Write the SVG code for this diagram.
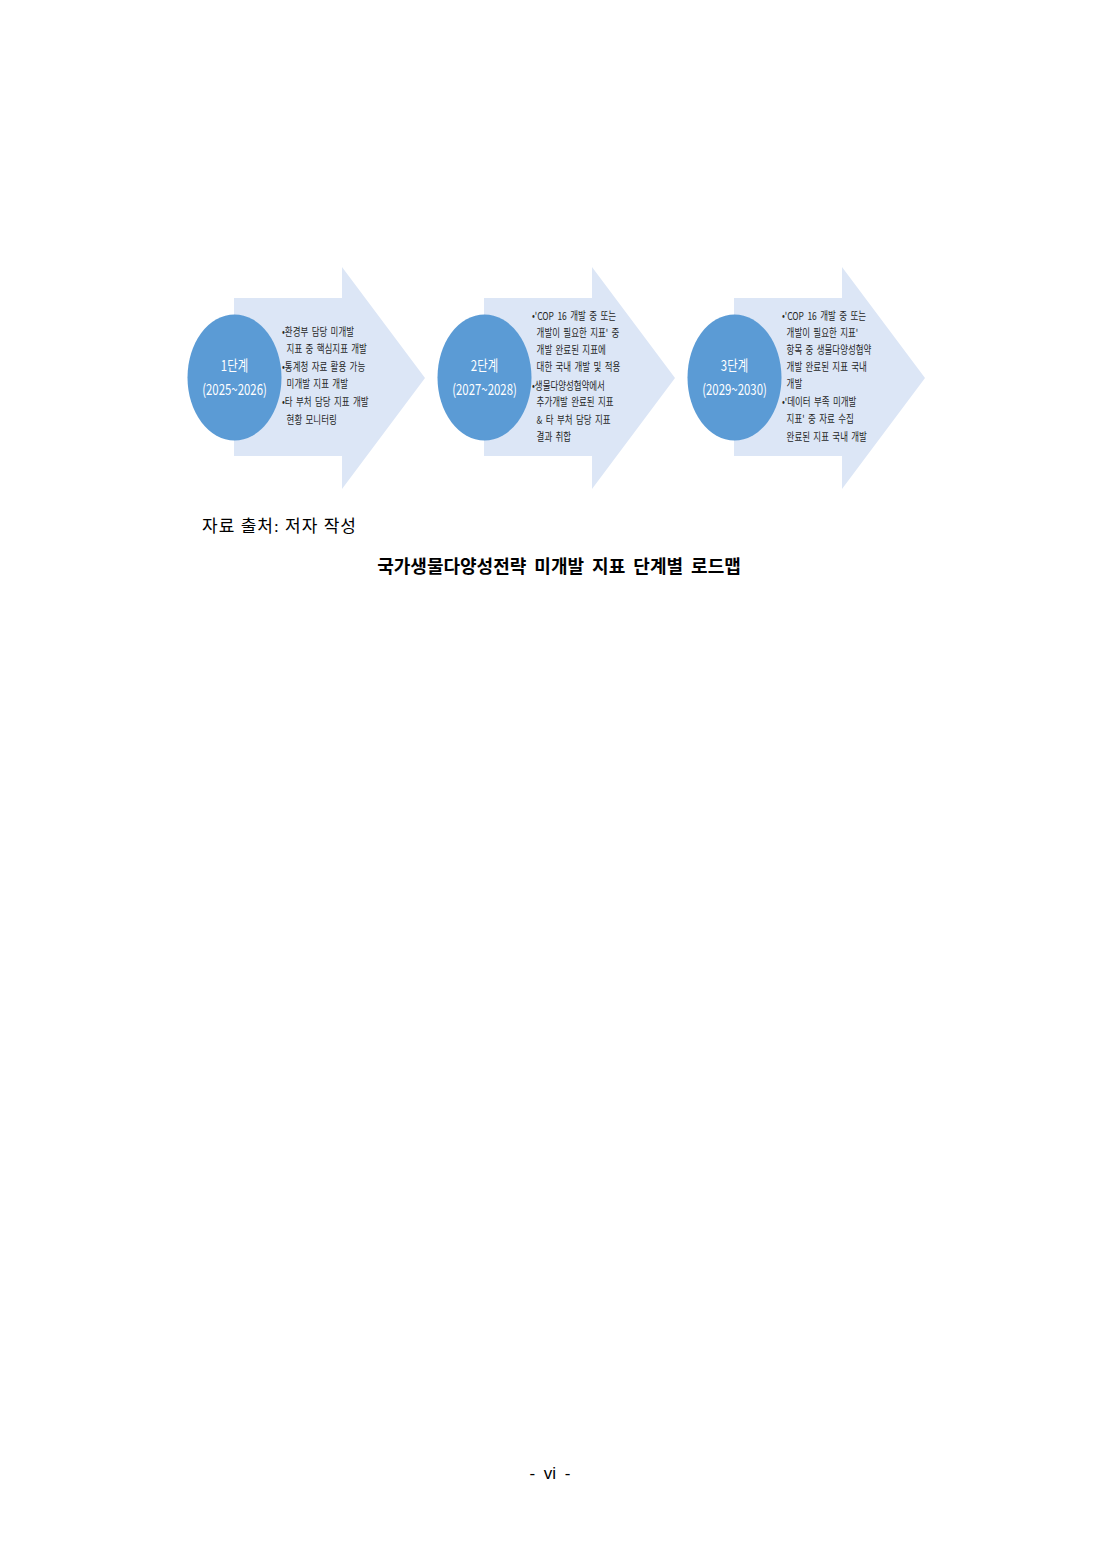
<svg xmlns="http://www.w3.org/2000/svg" width="1100" height="1554" viewBox="0 0 1100 1554">
<style>
.arrow{fill:#DCE6F6;stroke:none}
.circ{fill:#5B9BD5;stroke:none}
.clbl{font-family:"Noto Sans CJK KR","Noto Sans",sans-serif;font-size:15px;fill:#ffffff;text-anchor:middle}
.blt{font-family:"Noto Sans CJK KR","Noto Sans",sans-serif;font-size:11px;fill:#262626;word-spacing:2px}
.cap{font-family:"Liberation Serif","Noto Sans CJK KR",serif;font-size:17px;fill:#000}
.ttl{font-family:"Noto Sans CJK KR",sans-serif;font-size:18px;font-weight:bold;fill:#000;text-anchor:middle;word-spacing:4px}
.ftr{font-family:"Liberation Sans","Noto Sans CJK KR",sans-serif;font-size:17px;fill:#000;text-anchor:middle;word-spacing:4px}
</style>
<rect x="0" y="0" width="1100" height="1554" fill="#ffffff"/>
<defs>
<path id="arw" d="M0,298 L108,298 L108,267 L191,378 L108,489 L108,456 L0,456 Z"/>
</defs>
<g id="connectors">
<use href="#arw" class="arrow" transform="translate(234,0)"/>
<use href="#arw" class="arrow" transform="translate(484,0)"/>
<use href="#arw" class="arrow" transform="translate(734,0)"/>
</g>
<g id="stage1">
<ellipse class="circ" cx="234.5" cy="377.5" rx="47" ry="63"/>
<g transform="translate(234.5 0) scale(0.76 1)">
<text class="clbl" x="0" y="371">1단계</text>
<text class="clbl" x="0" y="395">(2025~2026)</text>
</g>
<g transform="translate(282 0) scale(0.77 1)">
<text class="blt" x="0" y="336">•환경부 담당 미개발</text>
<text class="blt" x="6" y="353">지표 중 핵심지표 개발</text>
<text class="blt" x="0" y="371">•통계청 자료 활용 가능</text>
<text class="blt" x="6" y="388">미개발 지표 개발</text>
<text class="blt" x="0" y="406">•타 부처 담당 지표 개발</text>
<text class="blt" x="6" y="424">현황 모니터링</text>
</g>
</g>
<g id="stage2">
<ellipse class="circ" cx="484.5" cy="377.5" rx="47" ry="63"/>
<g transform="translate(484.5 0) scale(0.76 1)">
<text class="clbl" x="0" y="371">2단계</text>
<text class="clbl" x="0" y="395">(2027~2028)</text>
</g>
<g transform="translate(532 0) scale(0.77 1)">
<text class="blt" x="0" y="320">•'COP 16 개발 중 또는</text>
<text class="blt" x="6" y="337">개발이 필요한 지표' 중</text>
<text class="blt" x="6" y="354">개발 완료된 지표에</text>
<text class="blt" x="6" y="371">대한 국내 개발 및 적용</text>
<text class="blt" x="0" y="390">•생물다양성협약에서</text>
<text class="blt" x="6" y="406">추가개발 완료된 지표</text>
<text class="blt" x="6" y="424">&amp; 타 부처 담당 지표</text>
<text class="blt" x="6" y="441">결과 취합</text>
</g>
</g>
<g id="stage3">
<ellipse class="circ" cx="734.5" cy="377.5" rx="47" ry="63"/>
<g transform="translate(734.5 0) scale(0.76 1)">
<text class="clbl" x="0" y="371">3단계</text>
<text class="clbl" x="0" y="395">(2029~2030)</text>
</g>
<g transform="translate(782 0) scale(0.77 1)">
<text class="blt" x="0" y="320">•'COP 16 개발 중 또는</text>
<text class="blt" x="6" y="337">개발이 필요한 지표'</text>
<text class="blt" x="6" y="354">항목 중 생물다양성협약</text>
<text class="blt" x="6" y="371">개발 완료된 지표 국내</text>
<text class="blt" x="6" y="388">개발</text>
<text class="blt" x="0" y="406">•'데이터 부족 미개발</text>
<text class="blt" x="6" y="423">지표' 중 자료 수집</text>
<text class="blt" x="6" y="441">완료된 지표 국내 개발</text>
</g>
</g>
<text class="cap" x="202" y="532" textLength="154" lengthAdjust="spacing">자료 출처: 저자 작성</text>
<text class="ttl" x="559" y="573">국가생물다양성전략 미개발 지표 단계별 로드맵</text>
<text class="ftr" x="550" y="1479">- vi -</text>
</svg>
